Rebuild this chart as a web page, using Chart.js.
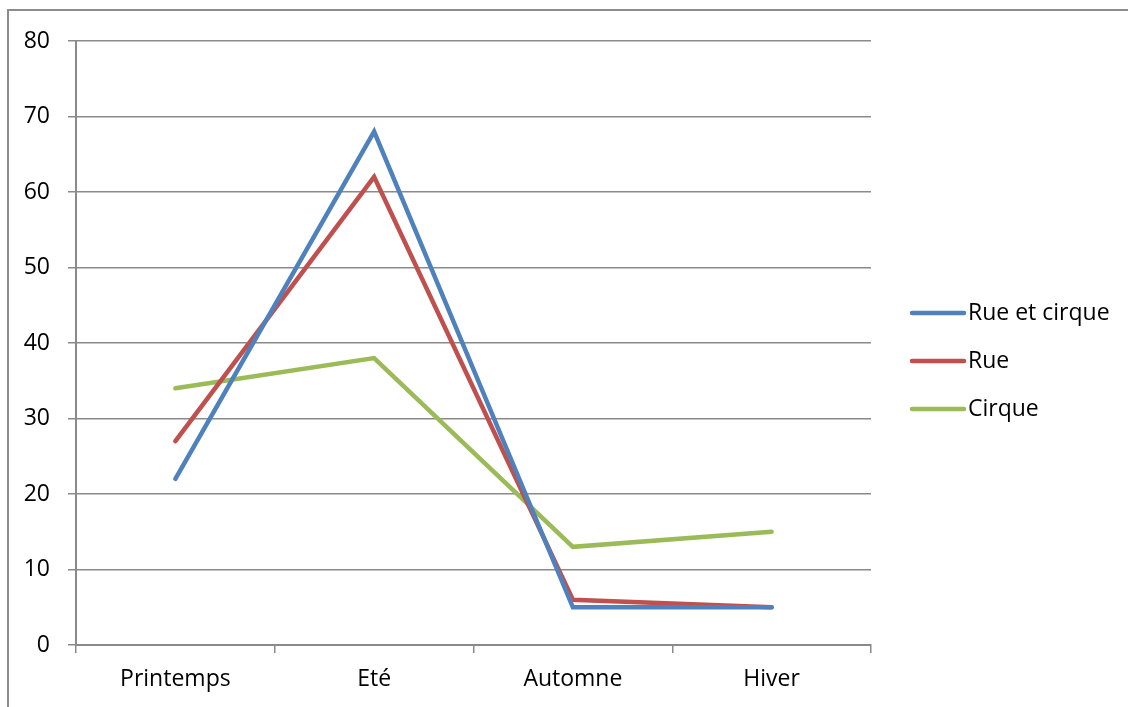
<!DOCTYPE html>
<html><head><meta charset="utf-8">
<script src="https://cdn.jsdelivr.net/npm/chart.js@4"></script>
<style>
html,body{margin:0;padding:0;background:#fff;overflow:hidden}
#frame{position:absolute;left:7px;top:9px;width:1140px;height:720px;border:2px solid #8c8c8c;box-sizing:border-box}
#wrap{position:absolute;left:0;top:0;width:1128px;height:707px}
</style></head>
<body>
<div id="frame"></div>
<div id="wrap"><canvas id="c" width="1128" height="707"></canvas></div>
<script>
const categories = ['Printemps', 'Eté', 'Automne', 'Hiver'];
const rueEtCirque = [22, 68, 5, 5];
const rue = [27, 62, 6, 5];
const cirque = [34, 38, 13, 15];
const yTicks = [0, 10, 20, 30, 40, 50, 60, 70, 80];

const FONT = "'Open Sans', 'Liberation Sans', sans-serif";
const FSIZE = 23;
const GRID = '#8a8a8a';

const legendPlugin = {
  id: 'sideLegend',
  afterDraw(chart) {
    const ctx = chart.ctx;
    const ys = [313, 361, 409];
    ctx.save();
    chart.data.datasets.forEach((ds, i) => {
      ctx.strokeStyle = ds.borderColor;
      ctx.lineWidth = 4.5;
      ctx.lineCap = 'round';
      ctx.beginPath();
      ctx.moveTo(912, ys[i]);
      ctx.lineTo(964, ys[i]);
      ctx.stroke();
      ctx.fillStyle = '#000';
      ctx.font = FSIZE + 'px ' + FONT;
      ctx.textBaseline = 'middle';
      ctx.textAlign = 'left';
      ctx.fillText(ds.label, 968, ys[i]);
    });
    ctx.restore();
  }
};

new Chart(document.getElementById('c'), {
  type: 'line',
  data: {
    labels: categories,
    datasets: [
      { label: 'Rue et cirque', data: rueEtCirque, borderColor: '#4F81BD' },
      { label: 'Rue', data: rue, borderColor: '#C0504D' },
      { label: 'Cirque', data: cirque, borderColor: '#9BBB59' }
    ].map(d => Object.assign(d, { borderWidth: 4.5, pointRadius: 0, pointHoverRadius: 0, tension: 0, fill: false, borderCapStyle: 'round', borderJoinStyle: 'miter' }))
  },
  options: {
    responsive: false,
    animation: false,
    events: [],
    layout: { padding: { left: 0, right: 257, top: 41, bottom: 0 } },
    plugins: { legend: { display: false }, tooltip: { enabled: false } },
    scales: {
      x: {
        offset: true,
        grid: { offset: true, drawOnChartArea: false, drawTicks: true, tickLength: 8, color: GRID, lineWidth: 1.5 },
        border: { color: GRID, width: 2 },
        ticks: { color: '#000', font: { family: FONT, size: FSIZE }, padding: 13, maxRotation: 0 },
        afterFit(s) { s.height = 62; }
      },
      y: {
        min: 0, max: 80,
        afterBuildTicks(s) { s.ticks = yTicks.map(v => ({ value: v })); },
        grid: { color: GRID, lineWidth: 1.5, tickLength: 8, drawTicks: true },
        border: { color: GRID, width: 2 },
        ticks: { color: '#000', font: { family: FONT, size: FSIZE }, padding: 18 },
        afterFit(s) { s.width = 76; }
      }
    }
  },
  plugins: [legendPlugin]
});
</script>
</body></html>
